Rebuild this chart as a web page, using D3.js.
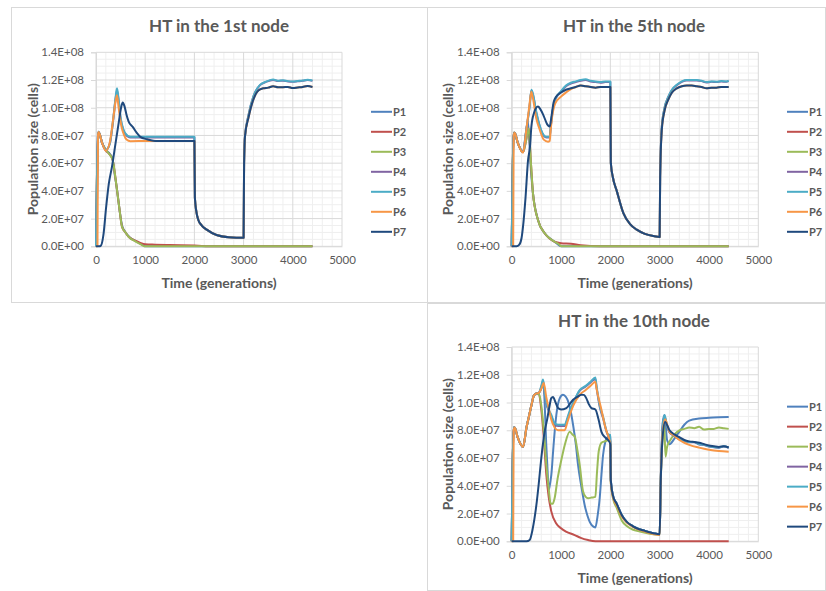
<!DOCTYPE html>
<html><head><meta charset="utf-8">
<script src="https://cdn.jsdelivr.net/npm/d3@7/dist/d3.min.js"></script>
<style>
body{margin:0;background:#fff}
svg{display:block}
text{font-family:Lato,"Open Sans","Liberation Sans",sans-serif;fill:#595959}
</style></head><body>
<svg id="c" width="826" height="591"></svg>
<script>
// ---------- labels ----------
const seriesNames = ["P1","P2","P3","P4","P5","P6","P7"];
const seriesColors = ["#4F81BD","#C0504D","#9BBB59","#8064A2","#4BACC6","#F79646","#1F497D"];
const chartTitles = ["HT in the 1st node","HT in the 5th node","HT in the 10th node"];
const xTicks = [0,1000,2000,3000,4000,5000];
const yTicks = [0,20,40,60,80,100,120,140]; // millions of cells
const xLabel = "Time (generations)";
const yLabel = "Population size (cells)";

// ---------- data: [generation, population in millions] ----------
// HT in the 1st node
const n1_P1 = [[0,0],[30,48],[45,82],[60,82],[120,75],[200,69.5],[260,67.5],[330,64],[380,52],[430,40],[480,26],[530,15],[600,10],[670,7],[800,4],[900,2],[980,0.3],[1000,0],[4400,0]];
const n1_P2 = [[0,0],[45,82],[60,82],[120,75],[200,69],[260,67],[339,62.3],[400,48],[427,40.7],[480,26],[528,14.2],[600,10],[664,6.9],[800,4],[900,2.5],[1000,1.5],[1200,1.2],[1500,0.9],[2000,0.5],[2400,0],[4400,0]];
const n1_P3 = [[0,0],[45,82],[60,82],[120,75],[203,69.5],[260,67],[339,62.3],[400,48],[427,40.7],[480,26],[528,14.2],[600,10],[664,6.9],[800,3.5],[935,0.9],[980,0],[4400,0]];
const n1_P4 = [[0,0],[40,80],[55,82.7],[120,75],[203,69.5],[280,74],[350,91],[400,107],[427,112.5],[460,105],[500,92],[550,84.5],[596,81],[700,78.6],[2000,78.6],[2010,35],[2040,25],[2080,19],[2150,15],[2250,12],[2450,8.2],[2700,6.6],[3000,6.2],[3010,60],[3030,80],[3096,94],[3198,108],[3333,116.3],[3469,118.8],[3600,120],[3700,119.3],[3800,119.5],[3900,119],[4000,118.8],[4100,119.1],[4200,119.4],[4300,120],[4400,119.4]];
const n1_P5 = [[0,0],[40,80],[55,82.7],[120,75],[203,69.5],[280,74],[350,92],[400,108],[427,114],[460,106],[500,93],[550,85],[596,81.6],[700,79],[2000,79],[2010,35],[2040,25],[2080,19],[2150,15],[2250,12],[2450,8.2],[2700,6.6],[3000,6.2],[3010,60],[3030,80],[3096,94],[3198,108],[3333,116.5],[3469,119],[3600,120.3],[3700,119.5],[3800,119.8],[3900,119.2],[4000,119],[4100,119.3],[4200,119.6],[4300,120.2],[4400,119.6]];
const n1_P6 = [[0,0],[30,0],[40,80],[55,82.5],[120,75],[200,69],[280,75],[350,92],[400,105],[427,109],[460,100],[520,86],[569,80.4],[620,77],[700,75.8],[1037,76],[1200,76],[2000,76],[2010,35],[2040,25],[2080,19],[2150,15],[2250,12],[2450,8.2],[2700,6.6],[3000,6.2],[3010,60],[3030,80],[3100,93],[3200,106],[3300,112.5],[3400,114],[3500,114.5],[3600,115.5],[3700,114.8],[3800,114.8],[3900,115],[4000,114.2],[4100,114.6],[4200,115],[4300,115.6],[4400,115]];
const n1_P7 = [[0,0],[60,0],[100,0.5],[150,8],[207,28.6],[260,45],[325,57.5],[400,75],[461,89],[510,100],[542,103.7],[580,101],[620,95],[664,90],[750,86],[833,81.6],[900,79],[1037,77.2],[1200,76],[2000,76],[2010,35],[2040,25],[2080,19],[2150,15],[2250,12],[2450,8.2],[2700,6.6],[3000,6.2],[3010,60],[3030,80],[3100,93],[3200,106],[3300,112.5],[3400,114],[3500,114.5],[3600,115.5],[3700,114.8],[3800,114.8],[3900,115],[4000,114.2],[4100,114.6],[4200,115],[4300,115.6],[4400,115]];

// HT in the 5th node
const n5_P1 = [[0,0],[40,82],[60,82],[120,75],[230,68],[280,80],[330,90],[380,60],[432,38],[533,19],[669,9.4],[800,5],[900,2.5],[1000,0],[4400,0]];
const n5_P2 = [[0,0],[40,82],[60,82],[120,75],[230,68],[290,76],[344,85],[390,60],[432,38],[533,19],[669,9.4],[872,3.3],[1000,2.2],[1200,1.8],[1400,0.8],[1800,0],[4400,0]];
const n5_P3 = [[0,0],[40,82],[60,82],[120,75],[230,68],[290,76],[344,85],[390,60],[432,38],[533,19],[669,9.4],[872,3.3],[975,0.9],[1000,0],[4400,0]];
const n5_P4 = [[0,0],[40,80],[60,82],[120,75],[230,68],[300,85],[360,100],[400,112.5],[430,109.5],[500,96],[560,87.5],[620,81.5],[700,78.6],[770,78.6],[790,85.5],[830,97.5],[880,105.5],[1000,111.5],[1100,115.5],[1200,117.5],[1300,118.5],[1400,119.5],[1500,120],[1600,119],[1700,118.5],[1800,118],[1900,118.5],[2000,118.5],[2010,60],[2050,50],[2130,40],[2264,24],[2400,16],[2535,12],[2700,9],[2872,7.4],[3000,6.7],[3010,50],[3043,86],[3100,100],[3177,108],[3250,113],[3347,116.2],[3450,118.7],[3550,119.7],[3650,119.7],[3750,119.7],[3850,119.2],[3950,118.2],[4050,118.7],[4150,118.5],[4250,118.9],[4350,118.7],[4400,119.2]];
const n5_P5 = [[0,0],[40,80],[60,82],[120,75],[230,68],[300,85],[360,100],[400,113],[430,110],[500,97],[560,88],[620,82],[700,79],[770,79],[790,86],[830,98],[880,106],[1000,112],[1100,116],[1200,118],[1300,119],[1400,120],[1500,120.5],[1600,119.5],[1700,119],[1800,118.5],[1900,119],[2000,119],[2010,60],[2050,50],[2130,40],[2264,24],[2400,16],[2535,12],[2700,9],[2872,7.4],[3000,6.7],[3010,50],[3043,86],[3100,100],[3177,108],[3250,113],[3347,116.5],[3450,119],[3550,120],[3650,120],[3750,120],[3850,119.5],[3950,118.5],[4050,119],[4150,118.8],[4250,119.2],[4350,119],[4400,119.5]];
const n5_P6 = [[0,0],[30,0],[40,80],[60,82],[120,75],[229,67.6],[300,85],[360,102],[398,111.6],[430,107],[500,92],[560,85],[650,77],[736,75.5],[770,76],[790,84],[830,96],[880,103],[1000,108],[1100,111],[1200,113.5],[1300,115],[1400,116],[1500,115.5],[1600,115],[1700,114.5],[1800,115],[1900,115],[2000,115],[2010,60],[2050,50],[2130,40],[2264,24],[2400,16],[2535,12],[2700,9],[2872,7.4],[3000,6.7],[3010,50],[3043,84],[3100,98],[3177,106],[3250,111],[3347,114],[3450,115.5],[3550,116],[3650,116],[3750,115.5],[3850,115],[3950,114],[4050,114.5],[4150,114.5],[4250,115],[4350,115],[4400,115]];
const n5_P7 = [[0,0],[100,0],[150,1],[200,6],[229,14],[280,35],[331,62],[371,72],[398,86],[450,96],[533,100.8],[580,99],[650,94],[720,88],[771,86.4],[800,92],[850,104],[900,108],[1000,111],[1100,113],[1200,114],[1300,115],[1400,116],[1500,115.5],[1600,115],[1700,114.5],[1800,115],[1900,115],[2000,115],[2010,60],[2050,50],[2130,40],[2264,24],[2400,16],[2535,12],[2700,9],[2872,7.4],[3000,6.7],[3010,50],[3043,84],[3100,98],[3177,106],[3250,111],[3347,114],[3450,115.5],[3550,116],[3650,116],[3750,115.5],[3850,115],[3950,114],[4050,114.5],[4150,114.5],[4250,115],[4350,115],[4400,115]];

// HT in the 10th node
const n10_P1 = [[0,0],[40,82],[60,82],[120,75],[230,68],[300,82],[350,90],[400,98],[450,105],[500,106.5],[550,107],[600,110],[640,115],[668,100],[700,70],[722,55],[750,37],[780,42],[804,48],[840,65],[871,79],[920,95],[973,103],[1040,105.6],[1100,104],[1142,101],[1200,93],[1244,84],[1300,70],[1345,55],[1410,40],[1480,26],[1540,18],[1582,14],[1640,11],[1696,10],[1740,18],[1784,31],[1820,48],[1852,62],[1900,72],[1953,75.5],[2000,76],[2010,44],[2060,32],[2130,27],[2230,19],[2333,14],[2450,11],[2535,9.4],[2700,7.5],[2872,5.8],[3000,5],[3020,40],[3060,85],[3100,91],[3150,73],[3200,70],[3300,74],[3400,79],[3500,84],[3600,87],[3800,88.5],[4000,89],[4200,89.3],[4400,89.5]];
const n10_P2 = [[0,0],[40,82],[60,82],[120,75],[230,68],[300,82],[350,90],[400,98],[450,105],[500,106.5],[550,106],[600,95],[650,75],[702,48],[750,32],[804,21.4],[900,13],[1000,9.4],[1100,7],[1277,4.5],[1400,2.5],[1548,0.9],[1700,0],[4400,0]];
const n10_P3 = [[0,0],[40,82],[60,82],[120,75],[230,68],[300,82],[350,90],[400,98],[450,105],[500,106.5],[550,106],[600,98],[650,80],[702,55],[750,38],[790,27.4],[830,27],[870,31],[930,45],[1000,57.5],[1080,70],[1176,79],[1230,77],[1277,75.5],[1330,66],[1379,55],[1446,36],[1500,32],[1548,31],[1620,31.5],[1696,32],[1730,50],[1764,64.7],[1820,71],[1886,72],[1988,73],[2000,72],[2010,42],[2060,30],[2130,24],[2230,15],[2333,11],[2450,8.5],[2600,7],[2800,5.5],[3000,4.8],[3020,40],[3060,75],[3090,85],[3120,61],[3150,68],[3200,72],[3300,77],[3400,80],[3500,81],[3600,82],[3700,81.5],[3800,82.5],[3900,80.5],[4000,81],[4100,81],[4200,82],[4300,81.5],[4400,81]];
const n10_P4 = [[0,0],[40,82],[60,82],[120,75],[230,68],[300,82],[350,90],[400,98],[450,105],[500,106.5],[550,107],[600,111],[635,115.5],[660,109],[702,99],[750,94],[804,90],[871,84],[950,83],[1074,83],[1130,88],[1176,93],[1250,99.5],[1379,108.5],[1500,111.5],[1600,114.5],[1696,117],[1720,111],[1784,97],[1850,89],[1953,76.5],[2000,76],[2010,44],[2060,32],[2130,27],[2230,19],[2333,14],[2450,11],[2535,9.4],[2700,7.5],[2872,5.8],[3000,5],[3020,40],[3060,81],[3100,90],[3150,82.5],[3200,78.5],[3300,75.8],[3400,73.8],[3500,72.3],[3600,71.3],[3700,71.3],[3800,69.8],[3900,69.3],[4000,68.3],[4100,67.8],[4200,67.3],[4300,68.3],[4400,67.3]];
const n10_P5 = [[0,0],[40,82],[60,82],[120,75],[230,68],[300,82],[350,90],[400,98],[450,105],[500,106.5],[550,107],[600,112],[635,116.5],[660,110],[702,100],[750,95],[804,91],[871,85],[950,84],[1074,84],[1130,89],[1176,94],[1250,100],[1379,109],[1500,112],[1600,115],[1696,118],[1720,112],[1784,98],[1850,90],[1953,77],[2000,76.5],[2010,44],[2060,32],[2130,27],[2230,19],[2333,14],[2450,11],[2535,9.4],[2700,7.5],[2872,5.8],[3000,5],[3020,40],[3060,82],[3100,91],[3150,83],[3200,79],[3300,76],[3400,74],[3500,72.5],[3600,71.5],[3700,71.5],[3800,70],[3900,69.5],[4000,68.5],[4100,68],[4200,67.5],[4300,68.5],[4400,67.5]];
const n10_P6 = [[0,0],[30,0],[40,80],[60,82],[120,75],[230,68],[300,82],[350,90],[400,98],[450,105],[500,106.5],[550,107],[600,110],[650,114],[700,104],[750,96],[804,87.6],[870,82],[939,80],[1074,80],[1130,86],[1176,91],[1250,98],[1379,105.6],[1500,109],[1600,112],[1696,115],[1720,110],[1818,95],[1900,82],[1988,72],[2000,70],[2010,42],[2060,31],[2130,26],[2230,18],[2333,13.5],[2450,10.5],[2535,9],[2700,7],[2872,5.3],[3000,4.5],[3020,40],[3060,78],[3110,88],[3200,79],[3300,76],[3400,73],[3500,71],[3600,69.5],[3800,67.5],[4000,66],[4200,65],[4400,64.5]];
const n10_P7 = [[0,0],[300,0],[365,1],[420,8],[460,16],[500,26],[550,42],[600,60],[640,72],[668,79],[720,88],[770,98],[800,103],[837,104],[890,100],[939,96],[1000,95],[1108,96],[1180,99],[1244,102],[1330,104],[1413,105.6],[1460,105.5],[1514,103],[1560,99],[1616,96],[1696,95],[1760,88],[1818,79],[1890,75],[1953,73],[2000,70],[2010,44],[2060,32],[2130,27],[2230,19],[2333,14],[2450,11],[2535,9.4],[2700,7.5],[2872,5.8],[3000,5],[3020,40],[3060,75],[3110,86],[3200,80],[3300,77],[3400,75],[3500,73],[3600,72],[3700,71.5],[3800,71],[3900,70],[4000,69],[4100,68.5],[4200,68],[4300,68.5],[4400,67.6]];

const panelSeries = [
  [n1_P1,n1_P2,n1_P3,n1_P4,n1_P5,n1_P6,n1_P7],
  [n5_P1,n5_P2,n5_P3,n5_P4,n5_P5,n5_P6,n5_P7],
  [n10_P1,n10_P2,n10_P3,n10_P4,n10_P5,n10_P6,n10_P7]
];

// ---------- layout ----------
const layouts = [
  {box:[11,7,416,295],  plot:{l:96,  r:342,  t:52.3, b:246.3}, titleX:219, yTitleX:33,  legendX:371},
  {box:[427,7,398,295], plot:{l:511.7,r:758.3,t:52.3, b:246.3}, titleX:634, yTitleX:448, legendX:787},
  {box:[427,303,398,287],plot:{l:511.7,r:758.3,t:347,  b:541.3}, titleX:634, yTitleX:448, legendX:787}
];

const svg = d3.select("#c");

function sci(vMillions){
  const s = (vMillions*1e6).toExponential(1);
  const [m,e] = s.split("e");
  const sign = e[0];
  const digits = e.slice(1).padStart(2,"0");
  return m + "E" + sign + digits;
}

layouts.forEach((L, pi) => {
  const g = svg.append("g");
  g.append("rect").attr("x",L.box[0]+0.5).attr("y",L.box[1]+0.5)
    .attr("width",L.box[2]).attr("height",L.box[3])
    .attr("fill","#fff").attr("stroke","#d9d9d9").attr("stroke-width",1);

  const P = L.plot;
  const x = d3.scaleLinear().domain([0,5000]).range([P.l,P.r]);
  const y = d3.scaleLinear().domain([0,140]).range([P.b,P.t]);

  // minor gridlines
  const xMinor = d3.range(0,5001,200).filter(v => v % 1000 !== 0);
  const yMinor = d3.range(0,140.1,5).filter(v => v % 20 !== 0);
  g.append("g").selectAll("line").data(xMinor).join("line")
    .attr("x1",d=>x(d)).attr("x2",d=>x(d)).attr("y1",P.t).attr("y2",P.b)
    .attr("stroke","#efefef").attr("stroke-width",1);
  g.append("g").selectAll("line").data(yMinor).join("line")
    .attr("x1",P.l).attr("x2",P.r).attr("y1",d=>y(d)).attr("y2",d=>y(d))
    .attr("stroke","#efefef").attr("stroke-width",1);
  // major gridlines
  g.append("g").selectAll("line").data(xTicks).join("line")
    .attr("x1",d=>x(d)).attr("x2",d=>x(d)).attr("y1",P.t).attr("y2",P.b)
    .attr("stroke","#d9d9d9").attr("stroke-width",1);
  g.append("g").selectAll("line").data(yTicks).join("line")
    .attr("x1",P.l).attr("x2",P.r).attr("y1",d=>y(d)).attr("y2",d=>y(d))
    .attr("stroke","#d9d9d9").attr("stroke-width",1);

  // axes
  const yAxis = g.append("g").attr("transform",`translate(${P.l},0)`)
    .call(d3.axisLeft(y).tickValues(yTicks).tickFormat(sci).tickSize(5).tickPadding(7));
  yAxis.select(".domain").attr("stroke","#d9d9d9");
  yAxis.selectAll(".tick line").attr("stroke","#d9d9d9");
  yAxis.selectAll("text").attr("font-size",11.5).attr("fill","#595959")
    .style("font-family","Lato, 'Open Sans', sans-serif");

  const xAxis = g.append("g").attr("transform",`translate(0,${P.b})`)
    .call(d3.axisBottom(x).tickValues(xTicks).tickFormat(d3.format("d")).tickSize(0).tickPadding(10));
  xAxis.select(".domain").attr("stroke","#d9d9d9");
  xAxis.selectAll("text").attr("font-size",11.5).attr("fill","#595959")
    .style("font-family","Lato, 'Open Sans', sans-serif");

  // series
  const line = d3.line().x(d=>x(d[0])).y(d=>y(d[1])).curve(d3.curveMonotoneX);
  panelSeries[pi].forEach((data, si) => {
    g.append("path").datum(data).attr("d",line)
      .attr("fill","none").attr("stroke",seriesColors[si])
      .attr("stroke-width",2).attr("stroke-linejoin","round");
  });

  // titles
  g.append("text").attr("x",L.titleX).attr("y",P.t-20).attr("text-anchor","middle")
    .attr("font-size",17).attr("font-weight","bold").text(chartTitles[pi]);
  g.append("text").attr("x",(P.l+P.r)/2).attr("y",P.b+42).attr("text-anchor","middle")
    .attr("font-size",14).attr("font-weight","bold").text(xLabel);
  g.append("text").attr("transform",`translate(${L.yTitleX},${(P.t+P.b)/2}) rotate(-90)`)
    .attr("dy","0.35em").attr("text-anchor","middle")
    .attr("font-size",14).attr("font-weight","bold").text(yLabel);

  // legend
  const legTop = (P.t+P.b)/2 - 37.5;
  const lg = g.append("g");
  seriesNames.forEach((name, si) => {
    const yy = legTop + si*20;
    lg.append("line").attr("x1",L.legendX).attr("x2",L.legendX+21).attr("y1",yy).attr("y2",yy)
      .attr("stroke",seriesColors[si]).attr("stroke-width",2);
    lg.append("text").attr("x",L.legendX+22).attr("y",yy).attr("dy","0.35em")
      .attr("font-size",11).attr("font-weight","bold").text(name);
  });
});
</script>
</body></html>
